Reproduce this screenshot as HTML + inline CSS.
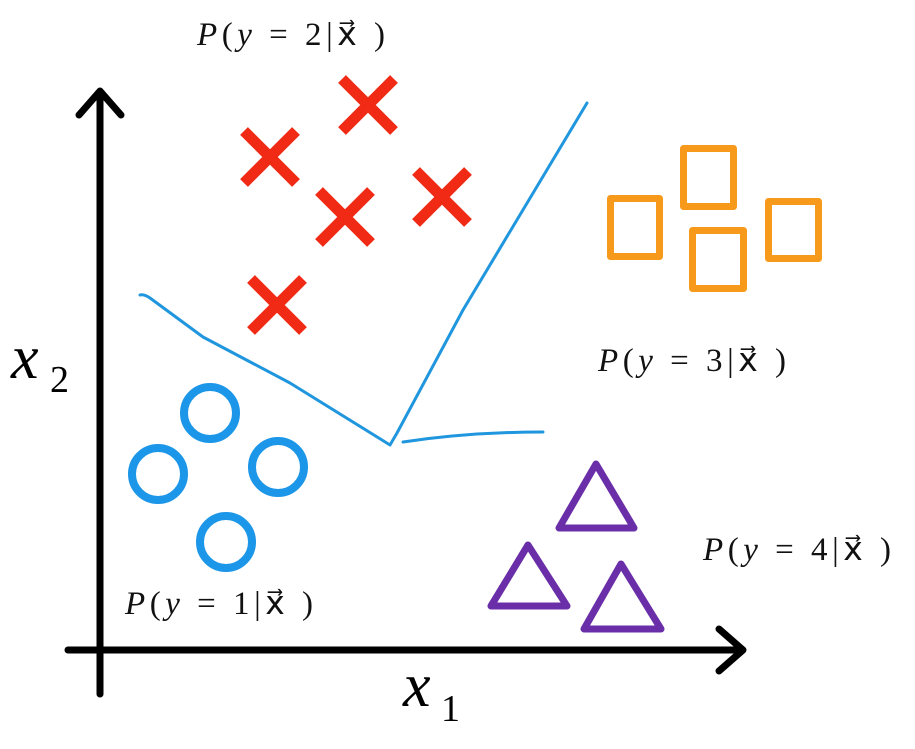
<!DOCTYPE html>
<html><head><style>
html,body{margin:0;padding:0;background:#fff;width:915px;height:749px;overflow:hidden}
svg{display:block}
text{font-family:"Liberation Serif",serif}
</style></head><body>
<svg width="915" height="749" viewBox="0 0 915 749" xmlns="http://www.w3.org/2000/svg">
<rect width="915" height="749" fill="#fff"/>
<!-- axes -->
<g stroke="#000" stroke-width="7" fill="none" stroke-linecap="round" stroke-linejoin="round">
<line x1="100" y1="92" x2="100" y2="694"/>
<polyline points="79,115 100,91 121,115"/>
<line x1="68" y1="650" x2="742" y2="650"/>
<polyline points="719,629 743,650 719,671"/>
</g>
<!-- boundary -->
<g stroke="#1f96dd" stroke-width="3" fill="none" stroke-linecap="round" stroke-linejoin="round">
<path d="M140,295 Q144,294 150,298 L203,337 L290,383 L390,445 L397,433 L463,310 L587,103"/>
<path d="M403,442 Q470,432 543,432"/>
</g>
<!-- red X -->
<g stroke="#f02a14" stroke-width="11" stroke-linecap="butt">
<path d="M342,79 L394,131 M394,79 L342,131"/>
<path d="M244,131 L296,183 M296,131 L244,183"/>
<path d="M319,191 L371,243 M371,191 L319,243"/>
<path d="M416,171 L468,223 M468,171 L416,223"/>
<path d="M251,279 L303,331 M303,279 L251,331"/>
</g>
<!-- blue circles -->
<g stroke="#1b96e8" stroke-width="8" fill="none">
<circle cx="210" cy="413" r="26"/>
<circle cx="158" cy="474" r="26"/>
<circle cx="278" cy="467" r="26"/>
<circle cx="226" cy="542" r="26"/>
</g>
<!-- orange squares -->
<g stroke="#f7991a" stroke-width="7" fill="none" stroke-linejoin="round">
<rect x="683.5" y="148.5" width="50" height="58"/>
<rect x="610.5" y="198.5" width="49" height="58"/>
<rect x="692.5" y="230.5" width="51" height="58"/>
<rect x="768.5" y="201.5" width="50" height="57"/>
</g>
<!-- purple triangles -->
<g stroke="#6a2fa8" stroke-width="7" fill="none" stroke-linejoin="round">
<polygon points="596,464 559,528 634,528"/>
<polygon points="528,545 491,606 567,606"/>
<polygon points="621,564 584,629 661,629"/>
</g>
<!-- labels -->
<g font-size="33" fill="#111">
<text x="197" y="45" textLength="188" lengthAdjust="spacing"><tspan font-style="italic">P</tspan>(<tspan font-style="italic">y</tspan> = 2|x&#8407; )</text>
<text x="598" y="371" textLength="188" lengthAdjust="spacing"><tspan font-style="italic">P</tspan>(<tspan font-style="italic">y</tspan> = 3|x&#8407; )</text>
<text x="703" y="560" textLength="188" lengthAdjust="spacing"><tspan font-style="italic">P</tspan>(<tspan font-style="italic">y</tspan> = 4|x&#8407; )</text>
<text x="125" y="614" textLength="188" lengthAdjust="spacing"><tspan font-style="italic">P</tspan>(<tspan font-style="italic">y</tspan> = 1|x&#8407; )</text>
</g>
<text x="11" y="378" font-size="62" font-style="italic" fill="#000">x</text>
<text x="50" y="392" font-size="38" fill="#000">2</text>
<text x="403" y="706" font-size="62" font-style="italic" fill="#000">x</text>
<text x="441" y="721" font-size="38" fill="#000">1</text>
</svg>
</body></html>
